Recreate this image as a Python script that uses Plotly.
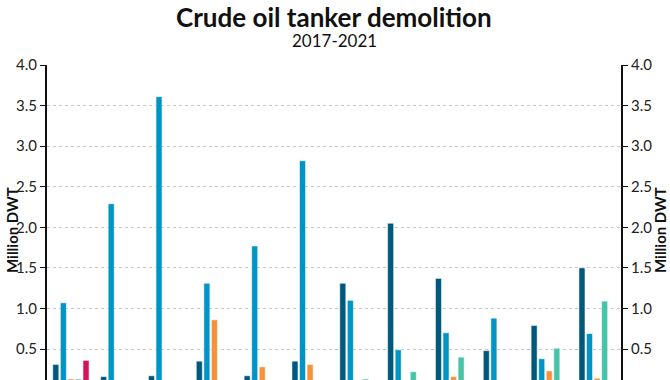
import plotly.graph_objects as go

months = ["Jan", "Feb", "Mar", "Apr", "May", "Jun", "Jul", "Aug", "Sep", "Oct", "Nov", "Dec"]
years = ["2017", "2018", "2019", "2020", "2021"]
v2017 = [0.31, 0.16, 0.17, 0.35, 0.17, 0.35, 1.31, 2.05, 1.37, 0.48, 0.79, 1.50]
v2018 = [1.07, 2.29, 3.61, 1.31, 1.77, 2.82, 1.10, 0.49, 0.70, 0.88, 0.38, 0.69]
v2019 = [0.13, 0, 0, 0.86, 0.28, 0.31, 0, 0, 0.16, 0, 0.23, 0.14]
v2020 = [0.13, 0, 0, 0, 0, 0, 0.13, 0.22, 0.40, 0, 0.51, 1.09]
v2021 = [0.36, None, None, None, None, None, None, None, None, None, None, None]
y_ticks = [0.5, 1.0, 1.5, 2.0, 2.5, 3.0, 3.5, 4.0]

series = [v2017, v2018, v2019, v2020, v2021]
colors = ["#00587C", "#0095C4", "#F7923A", "#45C4A8", "#D4135A"]

fig = go.Figure()
for name, vals, col in zip(years, series, colors):
    fig.add_trace(go.Bar(x=months, y=vals, name=name,
                         marker=dict(color=col, line=dict(color="rgba(255,255,255,0.55)", width=1))))
# invisible trace to attach right axis
fig.add_trace(go.Scatter(x=months, y=v2018, yaxis="y2", mode="markers",
                         marker=dict(opacity=0, size=1), showlegend=False, hoverinfo="skip"))

fnt = "Lato, 'Open Sans', sans-serif"
tick_text = ["%.1f" % t for t in y_ticks]
# the reference view is cropped just above the baseline
y_range = [0.118, 4]
axis_common = dict(range=y_range, tickvals=y_ticks, ticktext=tick_text, automargin=False,
                   showline=True, linecolor="#111", linewidth=2,
                   ticks="outside", ticklen=5, tickcolor="#111",
                   tickfont=dict(family=fnt, size=15, color="#222"),
                   zeroline=False)
PW, PH = 574, 315
L, T = 47, 65
ann_common = dict(showarrow=False, xref="paper", yref="paper", borderpad=0)
fig.update_layout(
    width=670, height=380,
    margin=dict(l=L, r=670 - L - PW, t=T, b=380 - T - PH),
    plot_bgcolor="white", paper_bgcolor="white",
    barmode="group", bargap=0.21, bargroupgap=0.2,
    showlegend=False,
    xaxis=dict(range=[-0.5, len(months) - 0.5], showline=False, showticklabels=False, automargin=False),
    yaxis=dict(**axis_common, showgrid=True, gridcolor="#c8c8c8", griddash="dot", gridwidth=1),
    yaxis2=dict(**axis_common, overlaying="y", side="right", showgrid=False),
    annotations=[
        dict(text="<b>Crude oil tanker demolition</b>", x=0.5, xanchor="center",
             y=1 + (T - 16.5) / PH, yanchor="middle",
             font=dict(family=fnt, size=26, color="#111"), **ann_common),
        dict(text="2017-2021", x=0.5, xanchor="center",
             y=1 + (T - 40) / PH, yanchor="middle",
             font=dict(family=fnt, size=17, color="#111"), **ann_common),
        dict(text="<b>Million DWT</b>", textangle=-90, x=(12 - L) / PW, xanchor="center",
             y=1 - (230 - T) / PH, yanchor="middle",
             font=dict(family=fnt, size=15, color="#111"), **ann_common),
        dict(text="<b>Million DWT</b>", textangle=-90, x=(660 - L) / PW, xanchor="center",
             y=1 - (230 - T) / PH, yanchor="middle",
             font=dict(family=fnt, size=15, color="#111"), **ann_common),
    ],
)
fig.write_html("out.html", config={"displayModeBar": False},
               post_script="document.body.style.margin='0';")
